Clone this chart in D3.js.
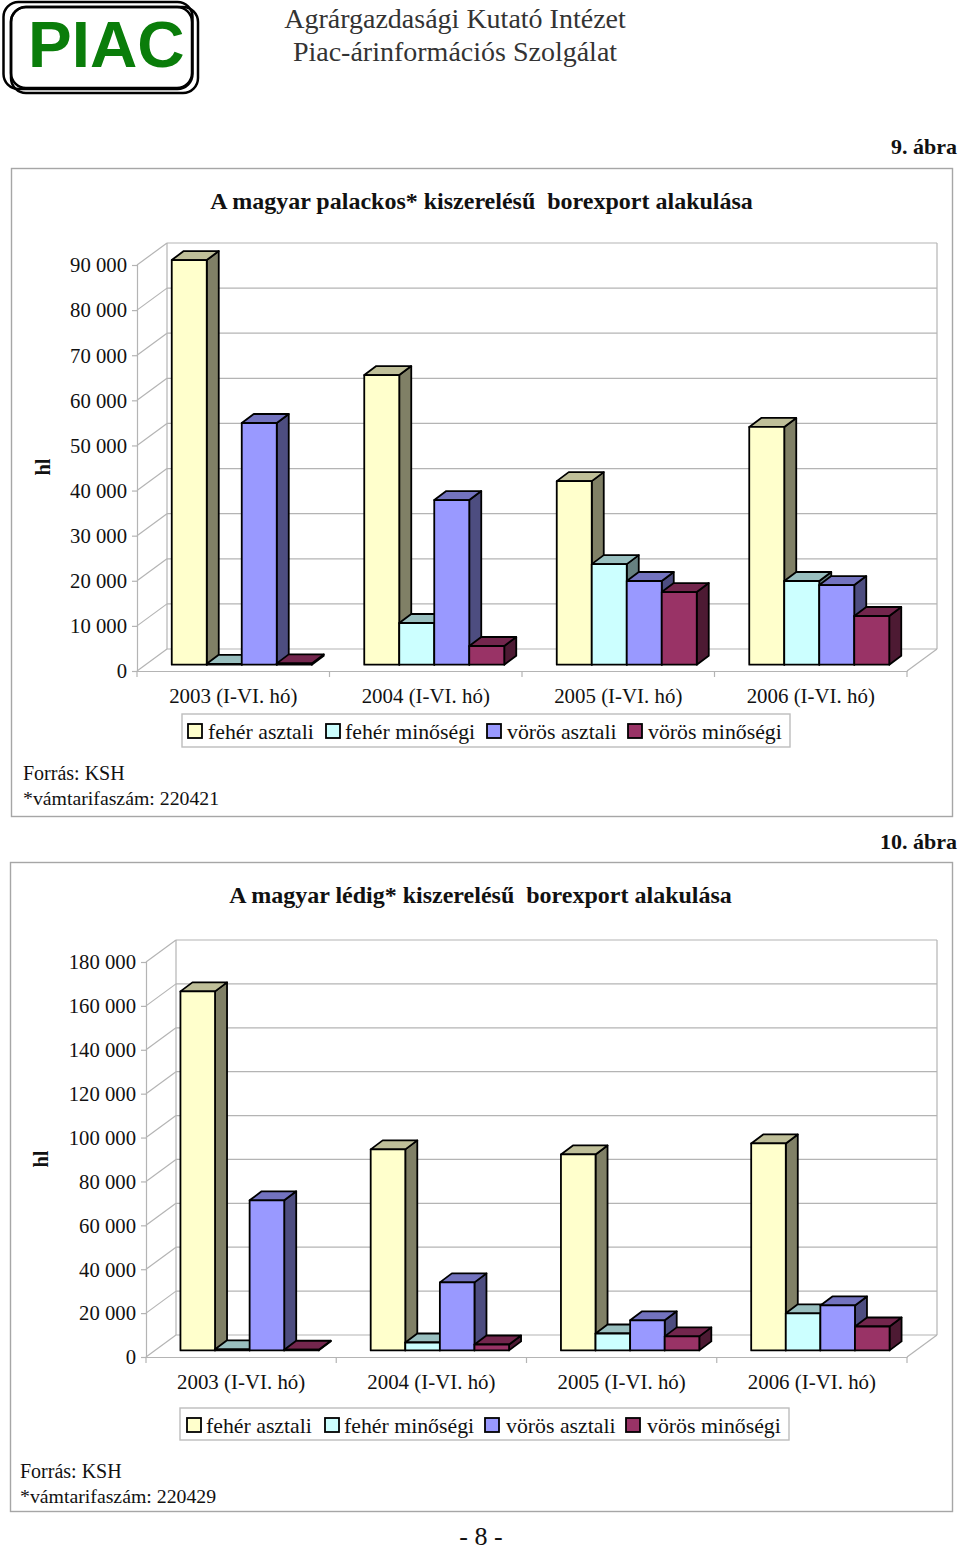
<!DOCTYPE html>
<html><head><meta charset="utf-8">
<script src="https://cdn.jsdelivr.net/npm/d3@7"></script>
<style>html,body{margin:0;padding:0;background:#fff}svg{display:block}text{font-family:"Liberation Serif",serif;fill:#111;white-space:pre}</style>
</head><body><svg id="c" width="960" height="1546"></svg>
<script>
const categories = ["2003 (I-VI. hó)","2004 (I-VI. hó)","2005 (I-VI. hó)","2006 (I-VI. hó)"];
const seriesNames = ["fehér asztali","fehér minőségi","vörös asztali","vörös minőségi"];
const bottledWhiteTable = [89700,64200,40700,52700];
const bottledWhiteQuality = [200,9240,22300,18550];
const bottledRedTable = [53580,36500,18550,17650];
const bottledRedQuality = [300,4150,16100,10800];
const bulkWhiteTable = [163600,91600,89300,94300];
const bulkWhiteQuality = [500,3600,7700,16900];
const bulkRedTable = [68400,31000,13700,20500];
const bulkRedQuality = [300,2700,6400,10900];
const bottledTicks = [0,10000,20000,30000,40000,50000,60000,70000,80000,90000];
const bulkTicks = [0,20000,40000,60000,80000,100000,120000,140000,160000,180000];
const frontColors = ["#FFFFCC","#CCFFFF","#9999FF","#993366"];
const sideColors = ["#808066","#668080","#4D4D80","#4D1A33"];
const topColors = ["#BFBF99","#99BFBF","#7373BF","#73264D"];

const svg = d3.select("#c");
const GRID = "#b4b4b4", FRAME = "#a6a6a6";
const fmt = d => d3.format(",")(d).replace(/,/g," ");
function txt(g,x,y,s,size,o={}){
  const t=g.append("text").attr("x",x).attr("y",y).attr("font-size",size).text(s);
  if(o.bold)t.attr("font-weight","bold");
  if(o.anchor)t.attr("text-anchor",o.anchor);
  if(o.fill)t.style("fill",o.fill);
  if(o.family)t.style("font-family",o.family);
  if(o.transform)t.attr("transform",o.transform);
  return t;
}

// header
const head = svg.append("g");
[[3.5,2,189,87],[11,7,187,86],[11,7,181,81]].forEach(r=>head.append("rect").attr("x",r[0]).attr("y",r[1]).attr("width",r[2]).attr("height",r[3]).attr("rx",15).attr("fill","none").attr("stroke","#000").attr("stroke-width",2.5));
txt(head,28,67,"PIAC",65.5,{bold:true,fill:"#0a7d0a",family:"'Liberation Sans',sans-serif"});
txt(head,455,28,"Agrárgazdasági Kutató Intézet",28,{anchor:"middle",fill:"#333"});
txt(head,455,61,"Piac-árinformációs Szolgálat",28,{anchor:"middle",fill:"#333"});
txt(head,957,154,"9. ábra",22,{bold:true,anchor:"end"});
txt(head,957,849,"10. ábra",22,{bold:true,anchor:"end"});
txt(head,481,1545,"- 8 -",26,{anchor:"middle"});

function chart(c){
  const g = svg.append("g");
  g.append("rect").attr("x",c.frame[0]+.5).attr("y",c.frame[1]+.5).attr("width",c.frame[2]-c.frame[0]).attr("height",c.frame[3]-c.frame[1]).attr("fill","#fff").attr("stroke",FRAME).attr("stroke-width",1.4);
  txt(g,c.titleX,c.titleY,c.title,24,{bold:true,anchor:"middle"});
  txt(g,0,0,"hl",20.5,{bold:true,anchor:"middle",transform:`translate(${c.hlX},${c.hlY}) rotate(-90)`});
  const max = c.ticks[c.ticks.length-1];
  const y = d3.scaleLinear().domain([0,max]).range([c.floorY,c.topY]);
  const x = d3.scaleBand().domain(categories).range([c.x0,c.x1]);
  const DX=30, DY=22;
  // walls and grid
  const wall = g.append("g").attr("fill","none").attr("stroke",GRID).attr("stroke-width",1.2);
  c.ticks.forEach(t=>{
    wall.append("line").attr("x1",c.x0+DX).attr("x2",c.x1+DX).attr("y1",y(t)-DY).attr("y2",y(t)-DY);
    wall.append("line").attr("x1",c.x0).attr("x2",c.x0+DX).attr("y1",y(t)).attr("y2",y(t)-DY);
  });
  wall.append("line").attr("x1",c.x0+DX).attr("x2",c.x0+DX).attr("y1",y(0)-DY).attr("y2",y(max)-DY);
  wall.append("line").attr("x1",c.x1+DX).attr("x2",c.x1+DX).attr("y1",y(0)-DY).attr("y2",y(max)-DY);
  wall.append("line").attr("x1",c.x1).attr("x2",c.x1+DX).attr("y1",y(0)).attr("y2",y(0)-DY);
  // axes
  const ay = g.append("g").attr("transform",`translate(${c.x0},0)`).call(d3.axisLeft(y).tickValues(c.ticks).tickFormat(fmt).tickSize(5).tickPadding(5));
  ay.selectAll("text").attr("font-size",20.7).style("font-family","'Liberation Serif',serif").attr("dy","0.33em");
  const ax = g.append("g").attr("transform",`translate(0,${c.floorY})`).call(d3.axisBottom(x).tickSize(0).tickPadding(c.catPad));
  ax.selectAll("text").attr("font-size",20.9).style("font-family","'Liberation Serif',serif");
  ax.selectAll(".tick").append("line").attr("x1",-x.bandwidth()/2).attr("x2",-x.bandwidth()/2).attr("y1",0).attr("y2",6);
  ax.append("line").attr("x1",c.x1).attr("x2",c.x1).attr("y1",0).attr("y2",6);
  g.selectAll(".domain").attr("stroke",GRID).attr("stroke-width",1.2);
  ay.selectAll("line").attr("stroke",GRID).attr("stroke-width",1.2);
  ax.selectAll("line").attr("stroke",GRID).attr("stroke-width",1.2);
  // bars
  const bw = x.bandwidth()/5.5, OX=8.5, OY=c.barLift, BX=12, BY=9;
  const sx = d3.scaleBand().domain(seriesNames).range([bw*.75,bw*4.75]);
  const bars = g.append("g").attr("stroke","#000").attr("stroke-width",1.8).attr("stroke-linejoin","round");
  categories.forEach((cat,ci)=>{
    seriesNames.forEach((s,si)=>{
      const v=c.values[si][ci];
      const L=x(cat)+sx(s)+OX, R=L+bw, T=y(v)-OY, B=y(0)-OY;
      const pts=a=>a.map(p=>p.join(",")).join(" ");
      bars.append("polygon").attr("points",pts([[R,T],[R+BX,T-BY],[R+BX,B-BY],[R,B]])).attr("fill",sideColors[si]);
      bars.append("polygon").attr("points",pts([[L,T],[L+BX,T-BY],[R+BX,T-BY],[R,T]])).attr("fill",topColors[si]);
      bars.append("rect").attr("x",L).attr("y",T).attr("width",bw).attr("height",B-T).attr("fill",frontColors[si]);
    });
  });
  // legend
  const lg=g.append("g");
  lg.append("rect").attr("x",c.legend[0]).attr("y",c.legend[1]).attr("width",c.legend[2]).attr("height",c.legend[3]).attr("fill","#fff").attr("stroke","#bdbdbd").attr("stroke-width",1.4);
  seriesNames.forEach((s,i)=>{
    lg.append("rect").attr("x",c.swatch[i]).attr("y",c.legend[1]+10).attr("width",14).attr("height",14).attr("fill",frontColors[i]).attr("stroke","#000").attr("stroke-width",1.8);
    txt(lg,c.swatch[i]+c.labelGap[i],c.legend[1]+25,s,21.8);
  });
  txt(g,c.srcX,c.srcY,"Forrás: KSH",20);
  txt(g,c.srcX,c.srcY+25,c.tariff,19.8);
}
chart({frame:[11,168,952,816],title:"A magyar palackos* kiszerelésű  borexport alakulása",titleX:481.5,titleY:209,hlX:50,hlY:467,
  ticks:bottledTicks,floorY:671,topY:265,x0:137,x1:907,catPad:17,barLift:6.3,
  values:[bottledWhiteTable,bottledWhiteQuality,bottledRedTable,bottledRedQuality],
  legend:[182,714,608,33],swatch:[188,326,487,628],labelGap:[20,19,20,20],srcX:23,srcY:780,tariff:"*vámtarifaszám: 220421"});
chart({frame:[10,862,952,1511],title:"A magyar lédig* kiszerelésű  borexport alakulása",titleX:480.5,titleY:903,hlX:48,hlY:1159,
  ticks:bulkTicks,floorY:1357,topY:962,x0:146,x1:907,catPad:17,barLift:6.6,
  values:[bulkWhiteTable,bulkWhiteQuality,bulkRedTable,bulkRedQuality],
  legend:[180,1408,609,32],swatch:[187,325,485,626],labelGap:[19,19,21,21],srcX:20,srcY:1478,tariff:"*vámtarifaszám: 220429"});
</script></body></html>
